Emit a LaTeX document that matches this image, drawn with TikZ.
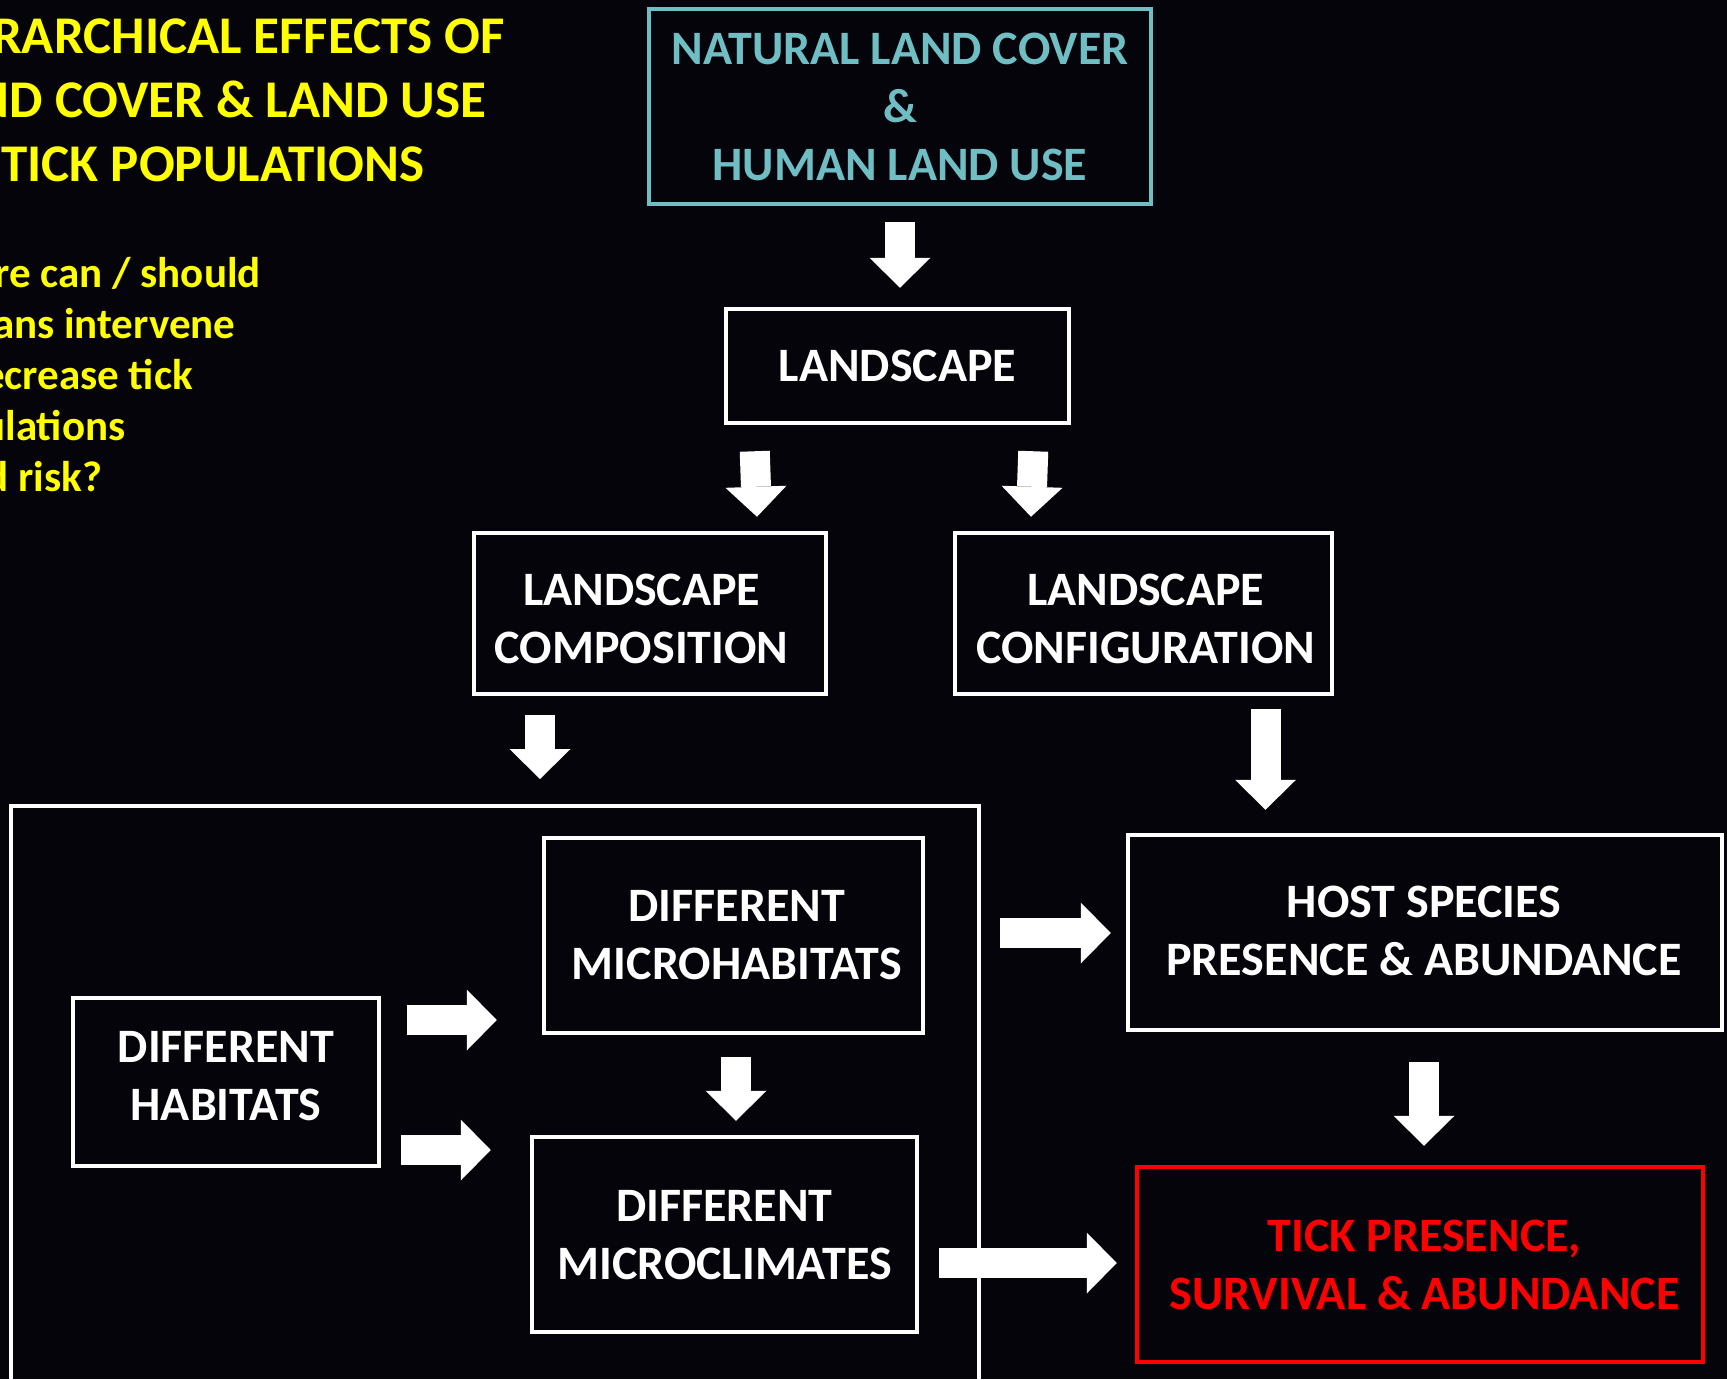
\documentclass[tikz,border=0pt]{standalone}
\usepackage{fontspec}
\setmainfont{Carlito}
\usetikzlibrary{arrows.meta,calc}
\definecolor{bgc}{RGB}{5,4,10}
\definecolor{tealc}{RGB}{111,190,196}
\definecolor{yel}{RGB}{255,255,0}
\definecolor{redc}{RGB}{255,0,0}
\tikzset{
  boxnode/.style={draw=white, line width=4.5pt, inner sep=0pt},
  boxtext/.style={text=white, align=center, inner sep=0pt,
    font=\fontsize{48}{58}\selectfont\bfseries},
  barrow/.style={draw=white, line width=30pt, -{Triangle[width=61pt,length=30pt,line width=0pt]}},
  titletext/.style={anchor=base east, inner sep=0pt, text=yel, font=\fontsize{53}{64}\selectfont\bfseries},
  bodytext/.style={anchor=base east, inner sep=0pt, text=yel, font=\fontsize{43}{51}\selectfont\bfseries},
}
\begin{document}
\begin{tikzpicture}[x=1pt,y=-1pt]
\useasboundingbox (0,0) rectangle (1727,1379);
\fill[bgc] (0,0) rectangle (1727,1379);
\clip (0,0) rectangle (1727,1379);

% title and question (cut by the left edge)
\node[titletext] (t1) at (505,53) {RARCHICAL EFFECTS OF};
\node[titletext] (t2) at (486.5,117) {ND COVER \& LAND USE};
\node[titletext] (t3) at (424.5,181) {TICK POPULATIONS};
\node[bodytext] (q1) at (261,287) {re can / should};
\node[bodytext] (q2) at (235.7,338) {ans intervene};
\node[bodytext] (q3) at (193,389) {ecrease tick};
\node[bodytext] (q4) at (125.6,440) {ulations};
\node[bodytext] (q5) at (102.4,491) {d risk?};

% boxes
\node[boxnode, draw=tealc, minimum width=502pt, minimum height=195pt] (top) at (900,106.5) {};
\node[boxtext, text=tealc] (topt) at ($(top.center)+(0,0.5)$) {NATURAL LAND COVER\\\&\\HUMAN LAND USE};
\node[boxnode, minimum width=343pt, minimum height=114pt] (land) at (897.5,366) {};
\node[boxtext] (landt) at ($(land.center)+(0,0)$) {LANDSCAPE};
\node[boxnode, minimum width=352pt, minimum height=161pt] (comp) at (650,613.5) {};
\node[boxtext] (compt) at ($(comp.center)+(-8.3,5.5)$) {LANDSCAPE\\COMPOSITION};
\node[boxnode, minimum width=377pt, minimum height=161pt] (conf) at (1143.5,613.5) {};
\node[boxtext] (conft) at ($(conf.center)+(2.2,5.5)$) {LANDSCAPE\\CONFIGURATION};
\node[draw=white, line width=4pt, inner sep=0pt, minimum width=968pt, minimum height=594pt] (grp) at (495,1103) {};
\node[boxnode, minimum width=379pt, minimum height=195pt] (micro) at (733.5,935.5) {};
\node[boxtext] (microt) at ($(micro.center)+(3.3,0)$) {DIFFERENT\\MICROHABITATS};
\node[boxnode, minimum width=306pt, minimum height=168pt] (hab) at (226,1082) {};
\node[boxtext] (habt) at ($(hab.center)+(0,-6)$) {DIFFERENT\\HABITATS};
\node[boxnode, minimum width=385pt, minimum height=195pt] (clim) at (724.5,1234.5) {};
\node[boxtext] (climt) at ($(clim.center)+(0,1)$) {DIFFERENT\\MICROCLIMATES};
\node[boxnode, minimum width=594pt, minimum height=195pt] (host) at (1425,932.5) {};
\node[boxtext] (hostt) at ($(host.center)+(-1,-2)$) {HOST SPECIES\\PRESENCE \& ABUNDANCE};
\node[boxnode, draw=redc, minimum width=566pt, minimum height=195pt] (tick) at (1420,1264.5) {};
\node[boxtext, text=redc] (tickt) at ($(tick.center)+(4.4,0)$) {TICK PRESENCE,\\SURVIVAL \& ABUNDANCE};

% block arrows
\draw[barrow] ($(top.south)+(0,16)$) -- ($(land.north -| top.south)+(0,-19)$);
\draw[barrow] ($(land.south west)+(31,26)$) -- ($(comp.north)+(107,-14)$);
\draw[barrow] ($(land.south east)+(-38,26)$) -- ($(conf.north)+(-112.5,-14)$);
\draw[barrow] ($(comp.south)+(-110,19)$) -- ($(grp.north)+(45,-25)$);
\draw[barrow] ($(conf.south)+(122,13)$) -- ($(host.north)+(-159.5,-23)$);
\draw[barrow] ($(micro.south)+(2.5,22)$) -- ($(clim.north)+(11.5,-14)$);
\draw[barrow] ($(host.south)+(-1,30)$) -- ($(tick.north)+(4,-19)$);
\draw[barrow] ($(hab.east)+(26,-62)$) -- ($(micro.west)+(-45,84.5)$);
\draw[barrow] ($(hab.east)+(20,68)$) -- ($(clim.west)+(-39,-84.5)$);
\draw[barrow] ($(grp.east)+(19,-170)$) -- ($(host.west)+(-15,0.5)$);
\draw[barrow] ($(clim.east)+(20,28.5)$) -- ($(tick.west)+(-18,-1.5)$);
\end{tikzpicture}
\end{document}
